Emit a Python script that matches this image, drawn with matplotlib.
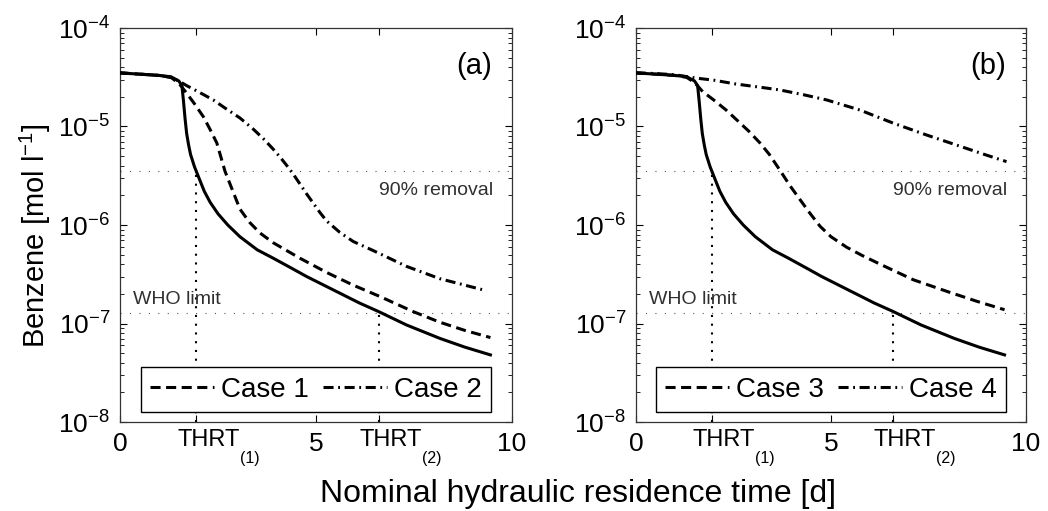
import matplotlib
matplotlib.use('Agg')
import matplotlib.pyplot as plt
import numpy as np

plt.rcParams['font.family'] = ['Liberation Sans', 'DejaVu Sans']
plt.rcParams['mathtext.fontset'] = 'custom'
plt.rcParams['mathtext.rm'] = 'Liberation Sans'
plt.rcParams['mathtext.it'] = 'Liberation Sans:italic'
plt.rcParams['mathtext.bf'] = 'Liberation Sans:bold'

# values (x in days, y in mol/l)
x_base = [0, 0.5, 1.0, 1.3, 1.5, 1.58, 1.62, 1.66, 1.7, 1.75, 1.8, 1.9, 2.0, 2.15,
          2.3, 2.5, 2.75, 3.06, 3.5, 3.91, 4.4, 4.76, 5.2, 5.61, 6.1, 6.6, 7.31,
          8.16, 8.8, 9.45]
y_base = [3.5e-5, 3.4e-5, 3.3e-5, 3.2e-5, 2.9e-5, 2.6e-5, 1.8e-5, 1.2e-5, 8.5e-6,
          6.5e-6, 5.2e-6, 3.9e-6, 3.1e-6, 2.2e-6, 1.7e-6, 1.3e-6, 1.0e-6, 7.6e-7,
          5.6e-7, 4.6e-7, 3.6e-7, 3.0e-7, 2.45e-7, 2.03e-7, 1.62e-7, 1.32e-7,
          9.66e-8, 7.06e-8, 5.75e-8, 4.8e-8]

x_case1 = [0, 0.5, 1.0, 1.3, 1.5, 1.7, 1.9, 2.13, 2.3, 2.47, 2.68, 2.89, 3.06, 3.3,
           3.57, 3.91, 4.59, 5.27, 5.95, 6.63, 7.48, 8.16, 8.8, 9.45]
y_case1 = [3.5e-5, 3.4e-5, 3.3e-5, 3.15e-5, 2.75e-5, 2.18e-5, 1.7e-5, 1.25e-5, 9.3e-6,
           6.8e-6, 3.5e-6, 2.15e-6, 1.45e-6, 1.07e-6, 8.3e-7, 6.6e-7, 4.6e-7, 3.3e-7,
           2.45e-7, 1.88e-7, 1.32e-7, 1.03e-7, 8.5e-8, 7.2e-8]

x_case2 = [0, 0.5, 1.0, 1.3, 1.5, 1.7, 2.0, 2.38, 2.7, 3.06, 3.4, 3.66, 3.9, 4.08, 4.25,
           4.4, 4.59, 4.76, 5.1, 5.27, 5.61, 5.95, 6.46, 7.31, 8.16, 9.35]
y_case2 = [3.5e-5, 3.4e-5, 3.3e-5, 3.15e-5, 2.9e-5, 2.6e-5, 2.25e-5, 1.86e-5, 1.52e-5,
           1.22e-5, 9.4e-6, 7.5e-6, 5.94e-6, 4.91e-6, 4.04e-6, 3.37e-6, 2.61e-6,
           2.07e-6, 1.34e-6, 1.1e-6, 8.4e-7, 6.8e-7, 5.5e-7, 3.8e-7, 2.85e-7, 2.15e-7]

x_case3 = [0, 0.5, 1.0, 1.3, 1.5, 1.71, 2.0, 2.31, 2.6, 2.9, 3.18, 3.42, 3.69, 3.95,
           4.21, 4.47, 4.72, 5.0, 5.4, 5.8, 6.26, 7.11, 7.97, 8.74, 9.45]
y_case3 = [3.5e-5, 3.4e-5, 3.3e-5, 3.15e-5, 2.8e-5, 2.26e-5, 1.85e-5, 1.47e-5, 1.15e-5,
           8.9e-6, 6.8e-6, 5.2e-6, 3.6e-6, 2.5e-6, 1.8e-6, 1.3e-6, 9.7e-7, 7.6e-7,
           5.95e-7, 4.9e-7, 4.0e-7, 2.78e-7, 2.12e-7, 1.68e-7, 1.38e-7]

x_case4 = [0, 0.5, 1.0, 1.54, 2.0, 2.56, 3.2, 3.69, 4.3, 4.89, 5.74, 6.6, 7.45, 8.31,
           9.0, 9.5]
y_case4 = [3.5e-5, 3.45e-5, 3.35e-5, 3.1e-5, 2.95e-5, 2.7e-5, 2.5e-5, 2.35e-5, 2.1e-5,
           1.86e-5, 1.47e-5, 1.08e-5, 8.2e-6, 6.3e-6, 5.1e-6, 4.4e-6]

removal_90 = 3.5e-6
who_limit = 1.28e-7
thrt1 = 1.95
thrt2 = 6.6

xticks = [0, thrt1, 5, thrt2, 10]
xticklabels = ['0', '', '5', '', '10']
thrt_labels = [(thrt1, '(1)'), (thrt2, '(2)')]

panels = [
    {'tag': '(a)', 'cases': [(x_case1, y_case1, 'Case 1'), (x_case2, y_case2, 'Case 2')]},
    {'tag': '(b)', 'cases': [(x_case3, y_case3, 'Case 3'), (x_case4, y_case4, 'Case 4')]},
]

dash = (0, (3.3, 1.8))
dashdot = (0, (3.3, 1.5, 0.6, 1.5))
lw = 2.2

fig = plt.figure(figsize=(10.48, 5.11), dpi=100)
rects = [[120/1048, 89/511, 392/1048, 394/511],
         [636/1048, 89/511, 390/1048, 394/511]]

for rect, p in zip(rects, panels):
    ax = fig.add_axes(rect)
    ax.set_yscale('log')
    ax.set_xlim(0, 10)
    ax.set_ylim(1e-8, 1e-4)

    # reference lines
    ax.axhline(removal_90, color='#555555', lw=0.8, linestyle=(0, (1, 7.5)), zorder=1)
    ax.axhline(who_limit, color='#555555', lw=0.8, linestyle=(0, (1, 7.5)), zorder=1)
    ax.plot([thrt1, thrt1], [1e-8, removal_90], color='black', lw=1.5,
            linestyle=(0, (1, 3.2)), zorder=1)
    ax.plot([thrt2, thrt2], [1e-8, who_limit], color='black', lw=1.5,
            linestyle=(0, (1, 3.2)), zorder=1)

    ax.plot(x_base, y_base, color='black', lw=lw, zorder=3)
    (xa, ya, la), (xb, yb, lb) = p['cases']
    ax.plot(xa, ya, color='black', lw=lw, linestyle=dash, label=la, zorder=3)
    ax.plot(xb, yb, color='black', lw=lw, linestyle=dashdot, label=lb, zorder=3)

    ax.text(9.52, removal_90 * 0.78, '90% removal', ha='right', va='top',
            fontsize=14, color='#303030')
    ax.text(0.33, who_limit * 1.12, 'WHO limit', ha='left', va='bottom',
            fontsize=14, color='#303030')
    ax.text(0.949, 0.904, p['tag'], transform=ax.transAxes, ha='right', va='center',
            fontsize=21)

    ax.set_xticks(xticks)
    ax.set_xticklabels(xticklabels)
    trans = ax.get_xaxis_transform()
    for xt, sub in thrt_labels:
        ax.text(xt + 0.3, -24/394, 'THRT', transform=trans, ha='center',
                va='baseline', fontsize=17, clip_on=False)
        ax.text(xt + 1.1, -41/394, sub, transform=trans, ha='left',
                va='baseline', fontsize=11.5, clip_on=False)
    ax.tick_params(axis='both', labelsize=19)
    ax.tick_params(which='both', direction='in', top=True, right=True)
    ax.tick_params(which='major', length=5, pad=7)
    ax.tick_params(which='minor', length=3)
    ax.minorticks_off()
    ax.yaxis.set_minor_locator(matplotlib.ticker.LogLocator(base=10, subs=np.arange(2, 10)))
    ax.yaxis.set_minor_formatter(matplotlib.ticker.NullFormatter())
    for s in ax.spines.values():
        s.set_linewidth(0.9)
        s.set_color('#333333')

    leg = ax.legend(loc='lower center', ncol=2, fontsize=20, handlelength=2.3,
                    handletextpad=0.25, columnspacing=0.5, borderpad=0.35,
                    borderaxespad=0.35, fancybox=False, framealpha=1, edgecolor='black')
    leg.get_frame().set_linewidth(1.0)
    leg.set_zorder(5)

fig.text(35/1048, 1 - 236/511, r'Benzene [mol l$^{-1}$]', rotation=90,
         ha='center', va='center', fontsize=21)
fig.text(578/1048, 9/511, 'Nominal hydraulic residence time [d]', ha='center',
         va='baseline', fontsize=23)

plt.savefig('out.png', dpi=100)
